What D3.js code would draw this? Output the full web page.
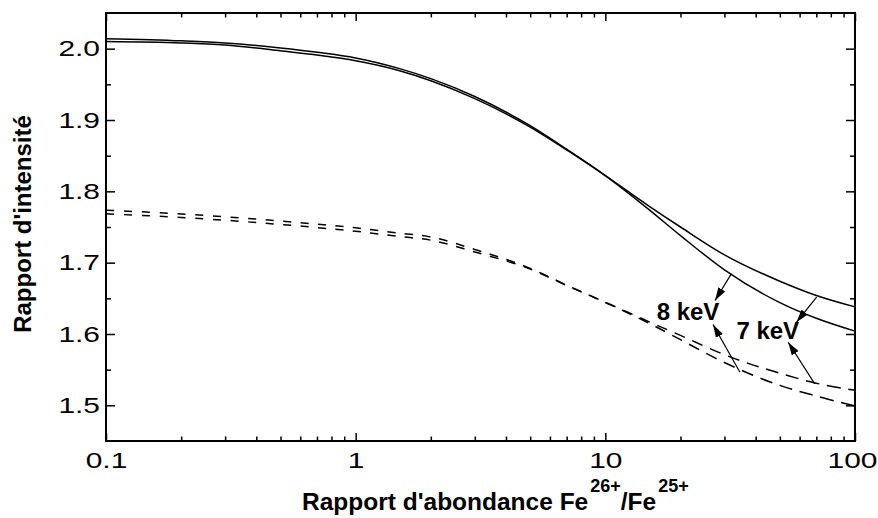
<!DOCTYPE html>
<html><head><meta charset="utf-8">
<script src="https://cdn.jsdelivr.net/npm/d3@7"></script>
<style>body{margin:0;background:#fff} svg{display:block;font-family:"Liberation Sans",Arial,sans-serif}</style>
</head><body>
<svg id="chart" width="878" height="518"></svg>
<script>
// ---- data ----
const ratios  = [0.1, 0.2, 0.3, 0.5, 0.7, 1, 1.5, 2, 3, 5, 7, 10, 15, 20, 30, 50, 70, 100];
const solid8  = [2.014, 2.011, 2.008, 2.001, 1.995, 1.987, 1.972, 1.958, 1.933, 1.892, 1.859, 1.822, 1.774, 1.738, 1.690, 1.644, 1.622, 1.604];
const solid7  = [2.010, 2.008, 2.005, 1.997, 1.991, 1.983, 1.969, 1.955, 1.930, 1.890, 1.858, 1.822, 1.779, 1.750, 1.711, 1.674, 1.654, 1.638];
const dashed8 = [1.7735, 1.7683, 1.7643, 1.7584, 1.7540, 1.7488, 1.7413, 1.7360, 1.7185, 1.6920, 1.6685, 1.6442, 1.6150, 1.592, 1.560, 1.528, 1.513, 1.499];
const dashed7 = [1.7685, 1.7633, 1.7595, 1.7536, 1.7492, 1.7440, 1.7367, 1.7315, 1.7150, 1.6910, 1.6680, 1.6445, 1.6170, 1.598, 1.571, 1.545, 1.531, 1.521];
const xTicks = [0.1, 1, 10, 100];
const xTickLabels = ["0.1", "1", "10", "100"];
const yTicks = [1.5, 1.6, 1.7, 1.8, 1.9, 2.0];
const yTickLabels = ["1.5", "1.6", "1.7", "1.8", "1.9", "2.0"];
const yMinorTicks = [1.55, 1.65, 1.75, 1.85, 1.95];
const labels = [
  {text: "8 keV", x: 16.05, y: 1.619},
  {text: "7 keV", x: 33.5,  y: 1.5933}
];
const arrows = [
  {x1: 32.0, y1: 1.6846, x2: 27.5, y2: 1.647},
  {x1: 70.2, y1: 1.6517, x2: 58.3, y2: 1.6166},
  {x1: 34.6, y1: 1.5463, x2: 27.0, y2: 1.6133},
  {x1: 69.0, y1: 1.530,  x2: 54.0, y2: 1.5885}
];
const xTitle = "Rapport d'abondance Fe";
const yTitle = "Rapport d'intensité";

// ---- layout ----
const L = 106, R = 855, T = 13, B = 441;
const svg = d3.select("#chart");
const x = d3.scaleLog().domain([0.1, 100]).range([L, R]);
const y = d3.scaleLinear().domain([1.45, 2.05]).range([B, T]);
const SX = 1.36;

const xMinor = [];
[0.1, 1, 10].forEach(d => { for (let k = 2; k <= 9; k++) xMinor.push(d * k); });

function styleAxis(g) {
  g.select(".domain").remove();
  g.selectAll(".tick line").attr("stroke", "#000").attr("stroke-width", 1.5);
}

// bottom
svg.append("g").attr("transform", `translate(0,${B})`)
  .call(d3.axisBottom(x).tickValues(xTicks).tickSize(-8).tickSizeOuter(0)
        .tickFormat((d, i) => xTickLabels[i]).tickPadding(11))
  .call(styleAxis)
  .call(g => g.selectAll("text").attr("font-size", 22).attr("fill", "#000")
        .attr("font-family", "Liberation Sans, Arial, sans-serif")
        .attr("x", d => d === 100 ? -3 / SX : 0)
        .attr("transform", `scale(${SX},1)`));
svg.append("g").attr("transform", `translate(0,${B})`)
  .call(d3.axisBottom(x).tickValues(xMinor).tickSize(-4.5).tickSizeOuter(0).tickFormat(""))
  .call(styleAxis);
// top
svg.append("g").attr("transform", `translate(0,${T})`)
  .call(d3.axisTop(x).tickValues(xTicks).tickSize(-8).tickSizeOuter(0).tickFormat(""))
  .call(styleAxis);
svg.append("g").attr("transform", `translate(0,${T})`)
  .call(d3.axisTop(x).tickValues(xMinor).tickSize(-4.5).tickSizeOuter(0).tickFormat(""))
  .call(styleAxis);
// left
svg.append("g").attr("transform", `translate(${L},0)`)
  .call(d3.axisLeft(y).tickValues(yTicks).tickSize(-9).tickSizeOuter(0)
        .tickFormat((d, i) => yTickLabels[i]))
  .call(styleAxis)
  .call(g => g.selectAll("text").attr("font-size", 22).attr("fill", "#000")
        .attr("font-family", "Liberation Sans, Arial, sans-serif")
        .attr("x", -6 / SX).attr("transform", `scale(${SX},1)`));
svg.append("g").attr("transform", `translate(${L},0)`)
  .call(d3.axisLeft(y).tickValues(yMinorTicks).tickSize(-5).tickSizeOuter(0).tickFormat(""))
  .call(styleAxis);
// right
svg.append("g").attr("transform", `translate(${R},0)`)
  .call(d3.axisRight(y).tickValues(yTicks).tickSize(-9).tickSizeOuter(0).tickFormat(""))
  .call(styleAxis);
svg.append("g").attr("transform", `translate(${R},0)`)
  .call(d3.axisRight(y).tickValues(yMinorTicks).tickSize(-5).tickSizeOuter(0).tickFormat(""))
  .call(styleAxis);

// frame
svg.append("rect").attr("x", L).attr("y", T).attr("width", R - L).attr("height", B - T)
  .attr("fill", "none").attr("stroke", "#000").attr("stroke-width", 2);

// curves
const line = d3.line().x(d => x(d[0])).y(d => y(d[1])).curve(d3.curveMonotoneX);
const series = [
  {vals: solid8, dashed: false},
  {vals: solid7, dashed: false},
  {vals: dashed8, dashed: true},
  {vals: dashed7, dashed: true}
];
series.forEach(s => {
  const p = svg.append("path").datum(ratios.map((r, i) => [r, s.vals[i]]))
    .attr("d", line).attr("fill", "none").attr("stroke", "#000")
    .attr("stroke-width", 1.5);
  if (s.dashed) {
    const node = p.node();
    const len = node.getTotalLength();
    const arr = [];
    let pos = 0;
    while (pos < len) {
      const pt = node.getPointAtLength(pos);
      const t = Math.max(0, Math.min(1, (pt.x - L) / (R - L)));
      const dash = 8 + 7 * t * t * t;
      const gap = 10 - 2.5 * t;
      arr.push(dash.toFixed(2), gap.toFixed(2));
      pos += dash + gap;
    }
    p.attr("stroke-dasharray", arr.join(","));
  }
});

// arrow marker
svg.append("defs").append("marker").attr("id", "ah")
  .attr("markerUnits", "userSpaceOnUse").attr("viewBox", "0 -5 13 10")
  .attr("refX", 13).attr("refY", 0).attr("markerWidth", 13).attr("markerHeight", 10)
  .attr("orient", "auto")
  .append("path").attr("d", "M0,-4L13,0L0,4Z").attr("fill", "#000");

svg.selectAll(".arr").data(arrows).enter().append("line")
  .attr("x1", d => x(d.x1)).attr("y1", d => y(d.y1))
  .attr("x2", d => x(d.x2)).attr("y2", d => y(d.y2))
  .attr("stroke", "#000").attr("stroke-width", 1.2).attr("marker-end", "url(#ah)");

svg.selectAll(".lbl").data(labels).enter().append("text")
  .attr("x", d => x(d.x)).attr("y", d => y(d.y))
  .attr("font-size", 24).attr("font-weight", "bold").attr("fill", "#000")
  .text(d => d.text);

// axis titles
const xt = svg.append("text").attr("x", 302).attr("y", 510)
  .attr("font-size", 24.5).attr("font-weight", "bold").attr("fill", "#000");
xt.append("tspan").text(xTitle);
xt.append("tspan").attr("font-size", 18).attr("dx", 2).attr("dy", -18).text("26+");
xt.append("tspan").attr("dy", 18).text("/Fe");
xt.append("tspan").attr("font-size", 18).attr("dx", 2).attr("dy", -18).text("25+");

svg.append("text").attr("transform", `translate(31,224) rotate(-90)`)
  .attr("text-anchor", "middle").attr("font-size", 24).attr("font-weight", "bold")
  .attr("fill", "#000").text(yTitle);
</script>
</body></html>
